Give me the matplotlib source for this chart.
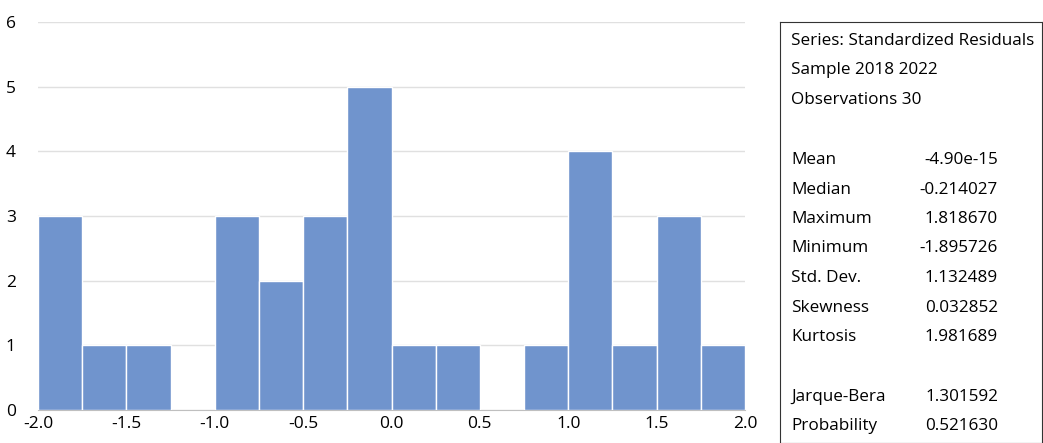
import numpy as np
import matplotlib.pyplot as plt

plt.rcParams['font.family'] = ['Open Sans', 'DejaVu Sans']

bin_left = np.arange(-2.0, 2.0, 0.25)
counts = [3, 1, 1, 0, 3, 2, 3, 5, 1, 1, 0, 1, 4, 1, 3, 1]
header = ['Series: Standardized Residuals', 'Sample 2018 2022', 'Observations 30']
stat_names = ['Mean', 'Median', 'Maximum', 'Minimum', 'Std. Dev.', 'Skewness', 'Kurtosis', '', 'Jarque-Bera', 'Probability']
stat_vals = ['-4.90e-15', '-0.214027', '1.818670', '-1.895726', '1.132489', '0.032852', '1.981689', '', '1.301592', '0.521630']

W, H = 1043, 443
fig = plt.figure(figsize=(W / 100, H / 100), dpi=100)
ax = fig.add_axes([38 / W, 1 - 410 / H, (745 - 38) / W, (410 - 22) / H])
ax.bar(bin_left, counts, width=0.25, align='edge', color='#7094CD', edgecolor='white', linewidth=1, zorder=3)
ax.set_xlim(-2.0, 2.0)
ax.set_ylim(0, 6)
ax.set_yticks(range(7))
ax.set_xticks(np.arange(-2.0, 2.01, 0.5))
ax.set_xticklabels(['%.1f' % v for v in np.arange(-2.0, 2.01, 0.5)])
ax.grid(axis='y', color='#e0e0e0', linewidth=1, zorder=0)
for s in ['top', 'right', 'left']:
    ax.spines[s].set_visible(False)
ax.spines['bottom'].set_color('#bfbfbf')
ax.tick_params(length=0, labelsize=12.5, pad=4)
ax.tick_params(axis='y', pad=16)

# stats box, in pixel units
box = fig.add_axes([780 / W, 0, (W - 781) / W, 1 - 22 / H])
box.patch.set_alpha(0)
box.set_xticks([]); box.set_yticks([])
box.set_xlim(780, W - 1)
box.set_ylim(H, 22)
for s in box.spines.values():
    s.set_color('#333333')

fs = 12.3
for i, h in enumerate(header):
    box.text(791, 41 + i * 29.5, h, fontsize=fs, va='center')
for i, (n, v) in enumerate(zip(stat_names, stat_vals)):
    if n:
        yy = 160 + i * 29.5 if i < 7 else 397 + (i - 8) * 29.5
        box.text(791, yy, n, fontsize=fs, va='center')
        box.text(998, yy, v, fontsize=fs, va='center', ha='right')

fig.savefig('out.png', dpi=100)
